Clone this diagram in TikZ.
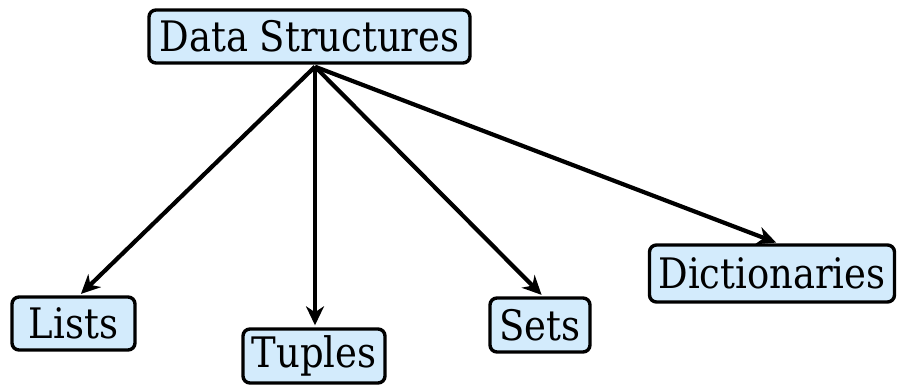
\documentclass[tikz,border=0pt]{standalone}
\usepackage{fontspec}
\setmainfont[FakeStretch=0.88]{DejaVu Serif}
\usetikzlibrary{arrows.meta}
\begin{document}
\begin{tikzpicture}[x=1pt,y=-1pt,
  box/.style={draw=black, line width=3.4pt, rounded corners=7pt, fill=boxblue,
    inner sep=0pt, font=\fontsize{42}{46}\selectfont, anchor=center},
  arr/.style={line width=4.2pt, -{Stealth[length=19pt,width=18pt,inset=6pt]}, shorten >=2pt}]
\definecolor{boxblue}{HTML}{D3EBFC}
\useasboundingbox (0,0) rectangle (897,387);
\node[box, minimum width=321pt, minimum height=53pt] (ds) at (309.5,36.5) {Data Structures};
\node[box, minimum width=123pt, minimum height=53pt] (li) at (73.5,323.5) {Lists};
\node[box, minimum width=142pt, minimum height=54pt] (tu) at (314,356) {Tuples};
\node[box, minimum width=100pt, minimum height=54pt] (se) at (540,325) {Sets};
\node[box, minimum width=245pt, minimum height=57pt] (di) at (772,273.5) {Dictionaries};
\coordinate (src) at ([xshift=5.5pt,yshift=-2pt]ds.south);
\draw[arr] (src) -- ([xshift=6pt]li.north);
\draw[arr] (src) -- ([xshift=1pt]tu.north);
\draw[arr] (src) -- ([xshift=3pt]se.north);
\draw[arr] (src) -- ([xshift=6pt]di.north);
\end{tikzpicture}
\end{document}
